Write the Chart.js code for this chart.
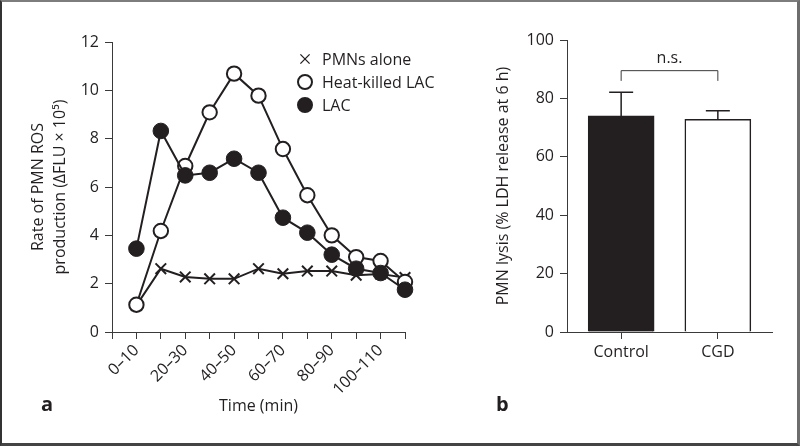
<!DOCTYPE html>
<html>
<head>
<meta charset="utf-8">
<script src="https://cdn.jsdelivr.net/npm/chart.js@4.4.1/dist/chart.umd.min.js"></script>
<style>
body{margin:0;background:#fff;}
#marco{position:absolute;left:0;top:0;width:800px;height:446px;box-sizing:border-box;border-top:2px solid #7d7d7d;border-left:2px solid #333;border-right:3px solid #6d6d6d;border-bottom:3px solid #444;}
canvas{position:absolute;top:0;}
#graficaA{left:0;}
#graficaB{left:470px;}
</style>
</head>
<body>
<div id="marco"></div>
<canvas id="graficaA" width="440" height="446"></canvas>
<canvas id="graficaB" width="327" height="446"></canvas>
<script>
// Datos del panel a (tasa de ROS por intervalo de tiempo)
const intervalos = ["0–10","10–20","20–30","30–40","40–50","50–60","60–70","70–80","80–90","90–100","100–110","110–120"];
const pmnSolos = [1.1, 2.62, 2.28, 2.2, 2.2, 2.62, 2.41, 2.52, 2.52, 2.35, 2.4, 2.25];
const lacMuerto = [1.13, 4.18, 6.87, 9.09, 10.69, 9.78, 7.57, 5.66, 4.0, 3.1, 2.94, 2.07];
const lacVivo = [3.45, 8.32, 6.48, 6.59, 7.17, 6.59, 4.73, 4.11, 3.2, 2.62, 2.44, 1.75];
const nombresSeries = ["PMNs alone", "Heat-killed LAC", "LAC"];
const ticksA = [0, 2, 4, 6, 8, 10, 12];

// Datos del panel b (lisis de PMN)
const grupos = ["Control", "CGD"];
const lisis = [74.0, 72.8];
const errorLisis = [8.1, 3.0];
const ticksB = [0, 20, 40, 60, 80, 100];

const negro = "#231f20";
const ejes = "#3a3a3a";
const fuente = {family: "'Open Sans', sans-serif", size: 16};
Chart.defaults.font.family = fuente.family;
Chart.defaults.color = negro;

// convierte los arrays en puntos {x,y} para la escala lineal
const aPuntos = (arr) => arr.map((v, i) => ({x: i, y: v}));

// leyenda dibujada dentro del área del gráfico
const leyendaA = {
  id: "leyendaA",
  afterDraw(chart){
    const ctx = chart.ctx;
    ctx.save();
    ctx.font = "16px " + fuente.family;
    ctx.fillStyle = negro;
    ctx.textBaseline = "middle";
    ctx.textAlign = "left";
    const filas = [59, 82, 105];
    nombresSeries.forEach((n, i) => {
      const ds = chart.data.datasets[i];
      ctx.strokeStyle = negro;
      ctx.fillStyle = ds.pointBackgroundColor;
      ctx.lineWidth = i == 0 ? 1.3 : 2;
      Chart.helpers.drawPoint(ctx, {pointStyle: ds.pointStyle, radius: i == 0 ? 6.5 : 7, rotation: 0, borderWidth: ctx.lineWidth}, 305, filas[i]);
      ctx.fillStyle = negro;
      ctx.fillText(n, 322, filas[i] + 1);
    });
    ctx.textBaseline = "alphabetic";
    ctx.font = "bold 20px " + fuente.family;
    ctx.fillText("a", 41, 411);
    ctx.restore();
  }
};

const configA = {
  type: "line",
  data: {
    datasets: [
      {label: nombresSeries[0], data: aPuntos(pmnSolos), order: 3, clip: false, borderColor: negro, borderWidth: 2,
        pointStyle: "crossRot", pointRadius: 7.5, pointBorderWidth: 2, pointBorderColor: negro, pointBackgroundColor: negro},
      {label: nombresSeries[1], data: aPuntos(lacMuerto), order: 2, clip: false, borderColor: negro, borderWidth: 2,
        pointStyle: "circle", pointRadius: 7.2, pointBorderWidth: 2, pointBorderColor: negro, pointBackgroundColor: "#fff"},
      {label: nombresSeries[2], data: aPuntos(lacVivo), order: 1, clip: false, borderColor: negro, borderWidth: 2,
        pointStyle: "circle", pointRadius: 7.8, pointBorderWidth: 1, pointBorderColor: negro, pointBackgroundColor: negro}
    ]
  },
  options: {
    responsive: false,
    animation: false,
    layout: {padding: {top: 42, right: 35, bottom: 0, left: 0}},
    plugins: {legend: {display: false}, tooltip: {enabled: false}},
    scales: {
      x: {
        type: "linear", min: -1, max: 11,
        afterBuildTicks(s){ s.ticks = intervalos.map((t, i) => ({value: i})).concat([{value: -1}]); },
        afterFit(s){ s.height = 114; },
        grid: {drawOnChartArea: false, tickLength: 7, color: ejes},
        border: {color: ejes, width: 1},
        ticks: {autoSkip: false, minRotation: 45, maxRotation: 45, padding: 2, font: fuente, color: negro,
          callback: (v) => (v >= 0 && v % 2 == 0) ? intervalos[v] : ""},
        title: {display: true, text: "Time (min)", font: fuente, color: negro, padding: {top: 4, bottom: 30}}
      },
      y: {
        min: 0, max: 12,
        afterBuildTicks(s){ s.ticks = ticksA.map(v => ({value: v})); },
        afterFit(s){ s.width = 112; },
        grid: {drawOnChartArea: false, tickLength: 7, color: ejes},
        border: {color: ejes, width: 1},
        ticks: {padding: 6, font: fuente, color: negro},
        title: {display: true, text: ["Rate of PMN ROS", "production (ΔFLU × 10⁵)"], font: {family: fuente.family, size: 16, lineHeight: 1.375},
          color: negro, padding: {top: 27, bottom: 0}}
      }
    }
  },
  plugins: [leyendaA]
};

new Chart(document.getElementById("graficaA"), configA);

// barras de error y corchete de significancia
const extrasB = {
  id: "extrasB",
  afterDatasetsDraw(chart){
    const ctx = chart.ctx;
    const sx = chart.scales.x, sy = chart.scales.y;
    ctx.save();
    ctx.strokeStyle = negro;
    ctx.lineWidth = 1.5;
    lisis.forEach((v, i) => {
      const x = sx.getPixelForValue(i);
      const y0 = sy.getPixelForValue(v);
      const y1 = sy.getPixelForValue(v + errorLisis[i]);
      ctx.beginPath();
      ctx.moveTo(x, y0); ctx.lineTo(x, y1);
      ctx.moveTo(x - 12, y1); ctx.lineTo(x + 12, y1);
      ctx.stroke();
    });
    // corchete n.s.
    const xa = sx.getPixelForValue(0), xb = sx.getPixelForValue(1);
    const yTop = sy.getPixelForValue(89.5), yBase = sy.getPixelForValue(86);
    ctx.lineWidth = 1;
    ctx.strokeStyle = ejes;
    ctx.beginPath();
    ctx.moveTo(xa, yBase); ctx.lineTo(xa, yTop); ctx.lineTo(xb, yTop); ctx.lineTo(xb, yBase);
    ctx.stroke();
    ctx.fillStyle = negro;
    ctx.font = "16px " + fuente.family;
    ctx.textAlign = "center";
    ctx.textBaseline = "middle";
    ctx.fillText("n.s.", (xa + xb) / 2, sy.getPixelForValue(93.6));
    ctx.textAlign = "left";
    ctx.textBaseline = "alphabetic";
    ctx.font = "bold 20px " + fuente.family;
    ctx.fillText("b", 26, 411);
    ctx.restore();
  }
};

const configB = {
  type: "bar",
  data: {
    datasets: [{
      data: aPuntos(lisis),
      backgroundColor: [negro, "#fff"],
      borderColor: negro,
      borderWidth: 1.5,
      barThickness: 66
    }]
  },
  options: {
    responsive: false,
    animation: false,
    layout: {padding: {top: 40, right: 25, bottom: 0, left: 0}},
    plugins: {legend: {display: false}, tooltip: {enabled: false}},
    scales: {
      x: {
        type: "linear", min: -0.56, max: 1.56, offset: false,
        afterBuildTicks(s){ s.ticks = grupos.map((g, i) => ({value: i})); },
        afterFit(s){ s.height = 114; },
        grid: {drawOnChartArea: false, tickLength: 7, color: ejes, offset: false},
        border: {color: ejes, width: 1},
        ticks: {autoSkip: false, maxRotation: 0, padding: 4, font: fuente, color: negro,
          callback: (v) => grupos[v]}
      },
      y: {
        min: 0, max: 100,
        afterBuildTicks(s){ s.ticks = ticksB.map(v => ({value: v})); },
        afterFit(s){ s.width = 97; },
        grid: {drawOnChartArea: false, tickLength: 7, color: ejes},
        border: {color: ejes, width: 1},
        ticks: {padding: 6, font: fuente, color: negro},
        title: {display: true, text: "PMN lysis (% LDH release at 6 h)", font: fuente, color: negro, padding: {top: 24, bottom: 0}}
      }
    }
  },
  plugins: [extrasB]
};

new Chart(document.getElementById("graficaB"), configB);
</script>
</body>
</html>
